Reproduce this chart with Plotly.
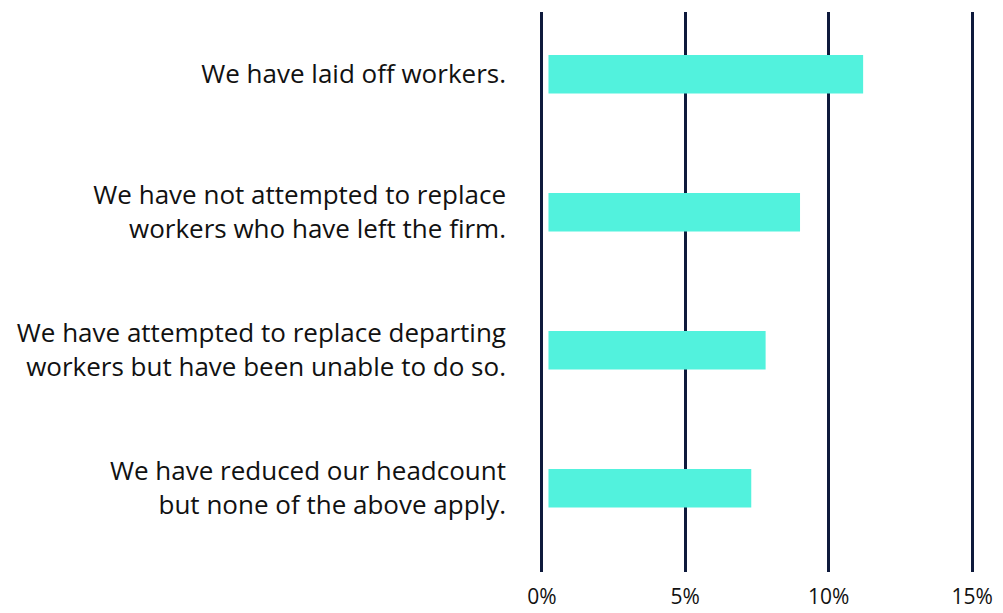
import plotly.graph_objects as go

# Survey responses: how firms have reduced headcount (share of respondents, %)
categories = [
    "We have laid off workers.",
    "We have not attempted to replace<br>workers who have left the firm.",
    "We have attempted to replace departing<br>workers but have been unable to do so.",
    "We have reduced our headcount<br>but none of the above apply.",
]
shares = [11.2, 9.0, 7.8, 7.3]

tick_values = [0, 5, 10, 15]
tick_labels = ["0%", "5%", "10%", "15%"]

BAR_COLOR = "#52F2DD"
GRID_COLOR = "#0E1A3C"
TEXT_COLOR = "#111111"
BAR_INSET = 0.23  # small white gap between the 0% line and the bars

fig = go.Figure(
    go.Bar(
        y=categories,
        x=[v - BAR_INSET for v in shares],
        base=BAR_INSET,
        orientation="h",
        width=0.28,
        marker=dict(color=BAR_COLOR, line=dict(width=0)),
        hovertemplate="%{y}: %{customdata}%<extra></extra>",
        customdata=shares,
    )
)

fig.update_layout(
    width=1003,
    height=613,
    margin=dict(l=539, r=28, t=12, b=41),
    paper_bgcolor="white",
    plot_bgcolor="white",
    font=dict(family="'Open Sans', Lato, sans-serif", color=TEXT_COLOR),
    showlegend=False,
    xaxis=dict(
        range=[-0.1, 15.1],
        tickvals=tick_values,
        ticktext=tick_labels,
        showgrid=True,
        gridcolor=GRID_COLOR,
        gridwidth=3,
        zeroline=False,
        showline=False,
        ticks="",
        ticklabelstandoff=10,
        tickfont=dict(size=21, color=TEXT_COLOR),
        automargin=False,
        fixedrange=True,
    ),
    yaxis=dict(
        type="category",
        categoryorder="array",
        categoryarray=categories,
        range=[3.607, -0.451],
        showgrid=False,
        zeroline=False,
        showline=False,
        ticks="",
        ticklabelstandoff=32,
        tickfont=dict(size=26, color=TEXT_COLOR),
        automargin=False,
        fixedrange=True,
    ),
)

fig.write_html("out.html")
